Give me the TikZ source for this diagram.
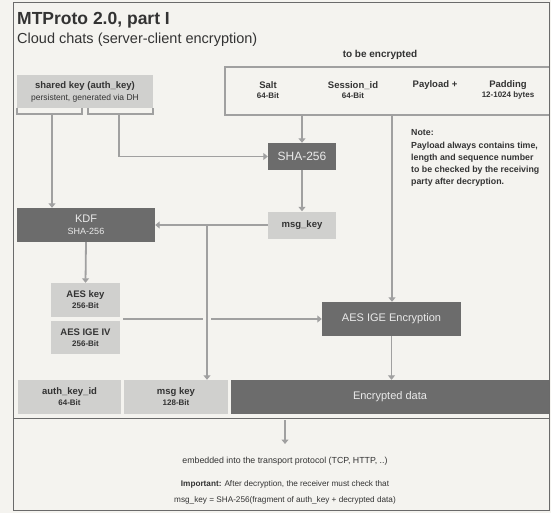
\documentclass[tikz,border=0pt]{standalone}
\usepackage{fontspec}
\setmainfont{Liberation Sans}
\usetikzlibrary{arrows.meta}
\definecolor{bg}{HTML}{F4F3EF}
\definecolor{lightbox}{HTML}{D0D0CE}
\definecolor{darkbox}{HTML}{6C6C6C}
\definecolor{darktext}{HTML}{EAEAEA}
\definecolor{wire}{HTML}{A0A0A0}
\definecolor{ink}{HTML}{333333}
\definecolor{frame}{HTML}{6A6A6A}
% size of the bit-length captions
\newcommand\bitsize{\fontsize{8}{9}\selectfont}
\tikzset{
  small/.style={font=\bfseries\fontsize{9.5}{11}\selectfont},
  lightnode/.style={fill=lightbox, text=ink, small, align=center, inner sep=0pt},
  darknode/.style={fill=darkbox, text=darktext, font=\fontsize{11}{13}\selectfont, align=center, inner sep=0pt},
  field/.style={text=ink, small, align=center, inner sep=0pt},
  wireline/.style={draw=wire, line width=1.8pt},
  flow/.style={wireline, -{Triangle[length=4.5pt,width=7pt]}},
}
\begin{document}
\begin{tikzpicture}[x=1pt,y=-1pt]
  % canvas and frame
  \fill[bg] (0,0) rectangle (551,513);
  \useasboundingbox (0,0) rectangle (551,513);
  \draw[frame, line width=1pt] (13,3) rectangle (549,510);

  % headings
  \node[anchor=base west, inner sep=0pt, text=ink, font=\bfseries\fontsize{17.5}{20}\selectfont] (title) at (17,25) {MTProto 2.0, part I};
  \node[anchor=base west, inner sep=0pt, text=ink, font=\fontsize{14.5}{17}\selectfont] (subtitle) at (17,44) {Cloud chats (server-client encryption)};

  % plaintext to be encrypted
  \node[field, font=\bfseries\fontsize{10}{12}\selectfont] (tbe) at (380,55) {to be encrypted};
  \draw[wireline] (549,67) -- (225,67) -- (225,115) -- (549,115);
  \node[field] (salt) at (268,90) {Salt\\[-1pt]{\bitsize 64-Bit}};
  \node[field] (sess) at (353,90) {Session\_id\\[-1pt]{\bitsize 64-Bit}};
  \node[field] (payload) at (435,85.5) {Payload +};
  \node[field] (padding) at (508,90) {Padding\\[-1pt]{\bitsize 12-1024 bytes}};
  \coordinate (plainA) at (302,115);
  \coordinate (plainB) at (392,115);

  % note
  \node[anchor=north west, text=ink, align=left, inner sep=0pt, font=\bfseries\fontsize{8.8}{12}\selectfont] (note) at (411,129)
    {Note:\\[1pt]Payload always contains time,\\length and sequence number\\to be checked by the receiving\\party after decryption.};

  % shared key
  \node[lightnode, minimum width=136pt, minimum height=33pt] (shared) at (85,91.5)
    {shared key (auth\_key)\\[1pt]{\mdseries\fontsize{8.5}{10}\selectfont persistent, generated via DH}};
  \draw[wireline] (17,108) -- (17,114) -- (82,114) -- (82,108);
  \draw[wireline] (88,108) -- (88,114) -- (153,114) -- (153,108);
  \coordinate (keyL) at (52,114);
  \coordinate (keyR) at (119,114);

  % hashing and key derivation
  \node[darknode, minimum width=68pt, minimum height=27pt, font=\fontsize{12}{14}\selectfont] (sha) at (302,156.5) {SHA-256};
  \node[lightnode, minimum width=68pt, minimum height=27pt] (msgkey) at (302,225) {msg\_key};
  \node[darknode, minimum width=138pt, minimum height=34pt] (kdf) at (86,225)
    {KDF\\[-1pt]{\fontsize{9}{10}\selectfont SHA-256}};
  \node[lightnode, minimum width=69pt, minimum height=34pt] (aeskey) at (85.5,300)
    {AES key\\{\bitsize 256-Bit}};
  \node[lightnode, minimum width=69pt, minimum height=33pt] (aesiv) at (85.5,337.5)
    {AES IGE IV\\{\bitsize 256-Bit}};
  \node[darknode, minimum width=139pt, minimum height=34pt] (aesenc) at (391.5,319) {AES IGE Encryption};

  % resulting message
  \node[lightnode, minimum width=103pt, minimum height=34pt] (authid) at (69.5,397)
    {auth\_key\_id\\{\bitsize 64-Bit}};
  \node[lightnode, minimum width=104pt, minimum height=34pt] (msgkey2) at (176,397)
    {msg key\\{\bitsize 128-Bit}};
  \node[darknode, minimum width=318pt, minimum height=34pt] (encdata) at (390,397) {Encrypted data};
  \draw[frame, line width=0.8pt] (13,418) -- (549,418);

  % connectors
  \draw[flow] (keyL) -- (keyL |- kdf.north);
  \draw[flow] (keyR) |- (sha.west);
  \draw[flow] (plainA) -- (sha.north);
  \draw[flow] (sha.south) -- (msgkey.north);
  \draw[flow] (msgkey.west) -- (kdf.east);
  \coordinate (split) at (207,225);
  \draw[flow] (split) -- (split |- msgkey2.north);
  \draw[flow] (kdf.south) -- (aeskey.north);
  \coordinate (keysout) at (123,319);
  \draw[wireline] (keysout) -- (203,319);
  \draw[flow] (211,319) -- (aesenc.west);
  \draw[flow] (plainB) -- (plainB |- aesenc.north);
  \draw[flow] (aesenc.south) -- (aesenc.south |- encdata.north);

  % transport
  \coordinate (sep) at (285,420);
  \node[text=ink, inner sep=0pt, font=\fontsize{8.8}{10}\selectfont] (transport) at (285,461)
    {embedded into the transport protocol (TCP, HTTP, ..)};
  \draw[flow] (sep) -- (285,444);
  \node[text=ink, inner sep=0pt, align=center, font=\fontsize{8.2}{16}\selectfont] (important) at (285,492)
    {\textbf{Important:} After decryption, the receiver must check that\\msg\_key = SHA-256(fragment of auth\_key + decrypted data)};
\end{tikzpicture}
\end{document}
